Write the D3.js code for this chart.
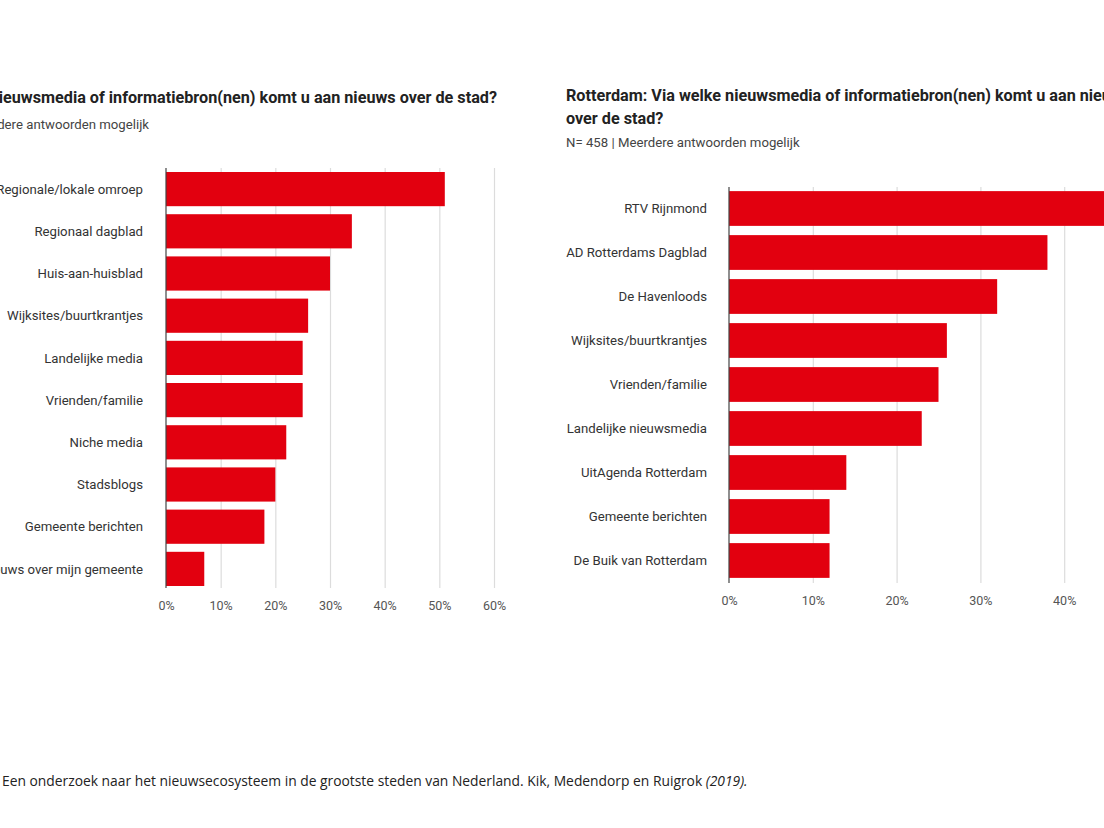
<!DOCTYPE html>
<html><head><meta charset="utf-8">
<script src="https://cdn.jsdelivr.net/npm/d3@7"></script>
<style>
html,body{margin:0;padding:0;background:#fff;overflow:hidden}
svg{display:block}
</style></head>
<body>
<svg id="c" width="1104" height="828"></svg>
<script>
// ---- data ----
const leftCategories = ["Regionale/lokale omroep","Regionaal dagblad","Huis-aan-huisblad","Wijksites/buurtkrantjes","Landelijke media","Vrienden/familie","Niche media","Stadsblogs","Gemeente berichten","Geen nieuws over mijn gemeente"];
const leftValues = [51,34,30,26,25,25,22,20,18,7];
const leftTicks = [0,10,20,30,40,50,60];
const rightCategories = ["RTV Rijnmond","AD Rotterdams Dagblad","De Havenloods","Wijksites/buurtkrantjes","Vrienden/familie","Landelijke nieuwsmedia","UitAgenda Rotterdam","Gemeente berichten","De Buik van Rotterdam"];
const rightValues = [47,38,32,26,25,23,14,12,12];
const rightTicks = [0,10,20,30,40,50];
const leftTitle = "Via welke nieuwsmedia of informatiebron(nen) komt u aan nieuws over de stad?";
const leftSubtitle = "N= 1.208 | Meerdere antwoorden mogelijk";
const rightTitle1 = "Rotterdam: Via welke nieuwsmedia of informatiebron(nen) komt u aan nieuws";
const rightTitle2 = "over de stad?";
const rightSubtitle = "N= 458 | Meerdere antwoorden mogelijk";
const caption = "Een onderzoek naar het nieuwsecosysteem in de grootste steden van Nederland. Kik, Medendorp en Ruigrok ";
const captionYear = "(2019).";

const svg = d3.select("#c");
const RED = "#e2000f";
const FONT = "Roboto, 'Noto Sans', sans-serif";

function drawChart(cfg){
  const g = svg.append("g");
  const x = d3.scaleLinear().domain([0, cfg.max]).range([cfg.x0, cfg.x1]);
  const y = d3.scaleBand().domain(cfg.cats).range([cfg.yTop, cfg.yBot]).paddingInner(cfg.pad).paddingOuter(cfg.pad/2);
  // grid
  g.append("g").selectAll("line").data(cfg.ticks.filter(t=>t>0)).join("line")
    .attr("x1", d=>x(d)+0.5).attr("x2", d=>x(d)+0.5)
    .attr("y1", cfg.gTop).attr("y2", cfg.gBot)
    .attr("stroke", "#dcdcdc").attr("stroke-width", 1.2);
  // bars
  g.append("g").selectAll("rect").data(cfg.vals).join("rect")
    .attr("x", x(0)).attr("y", (d,i)=>y(cfg.cats[i]))
    .attr("width", d=>x(d)-x(0)).attr("height", y.bandwidth())
    .attr("fill", RED);
  // baseline
  g.append("line").attr("x1", x(0)).attr("x2", x(0)).attr("y1", cfg.gTop).attr("y2", cfg.gBot)
    .attr("stroke", "#444").attr("stroke-width", 1.2);
  // category labels
  g.append("g").selectAll("text").data(cfg.cats).join("text")
    .attr("x", cfg.labelX).attr("y", d=>y(d)+y.bandwidth()/2)
    .attr("dy", "0.35em").attr("text-anchor", "end")
    .attr("font-family", FONT).attr("font-size", 13.2).attr("fill", "#333")
    .text(d=>d);
  // x axis
  const ax = d3.axisBottom(x).tickValues(cfg.ticks).tickFormat(d=>d+"%").tickSize(0).tickPadding(0);
  const axg = g.append("g").attr("transform", `translate(0,${cfg.tickY})`).call(ax);
  axg.select(".domain").remove();
  axg.selectAll("text").attr("font-family", FONT).attr("font-size", 12.5).attr("fill", "#555").attr("dy", "0");
}

drawChart({cats:leftCategories, vals:leftValues, ticks:leftTicks, max:60,
  x0:166, x1:494, yTop:168, yBot:590, pad:0.19, gTop:168, gBot:588, labelX:143, tickY:610});
drawChart({cats:rightCategories, vals:rightValues, ticks:rightTicks, max:50,
  x0:729, x1:729+83.8*5, yTop:186.5, yBot:582.5, pad:0.21, gTop:187, gBot:583, labelX:707, tickY:605});

// titles
svg.append("text").attr("x", 497).attr("y", 103).attr("text-anchor", "end")
  .attr("font-family", FONT).attr("font-weight", "bold").attr("font-size", 16.2).attr("fill", "#222").text(leftTitle);
svg.append("text").attr("x", 149).attr("y", 129).attr("text-anchor", "end")
  .attr("font-family", FONT).attr("font-size", 13.2).attr("fill", "#444").text(leftSubtitle);
svg.append("text").attr("x", 566).attr("y", 101)
  .attr("font-family", FONT).attr("font-weight", "bold").attr("font-size", 16.2).attr("fill", "#222").text(rightTitle1);
svg.append("text").attr("x", 566).attr("y", 124)
  .attr("font-family", FONT).attr("font-weight", "bold").attr("font-size", 16.2).attr("fill", "#222").text(rightTitle2);
svg.append("text").attr("x", 566).attr("y", 147)
  .attr("font-family", FONT).attr("font-size", 13.2).attr("fill", "#444").text(rightSubtitle);

// caption: one text element, sized to span the same width as the reference
const cap = svg.append("text").attr("x", 2).attr("y", 786)
  .attr("font-family", "'Open Sans', Lato, sans-serif").attr("font-size", 14).attr("fill", "#222");
cap.append("tspan").text(caption);
cap.append("tspan").attr("font-style", "italic").text(captionYear);
const w = cap.node().getComputedTextLength();
cap.attr("font-size", 14 * 746 / w);
</script>
</body></html>
